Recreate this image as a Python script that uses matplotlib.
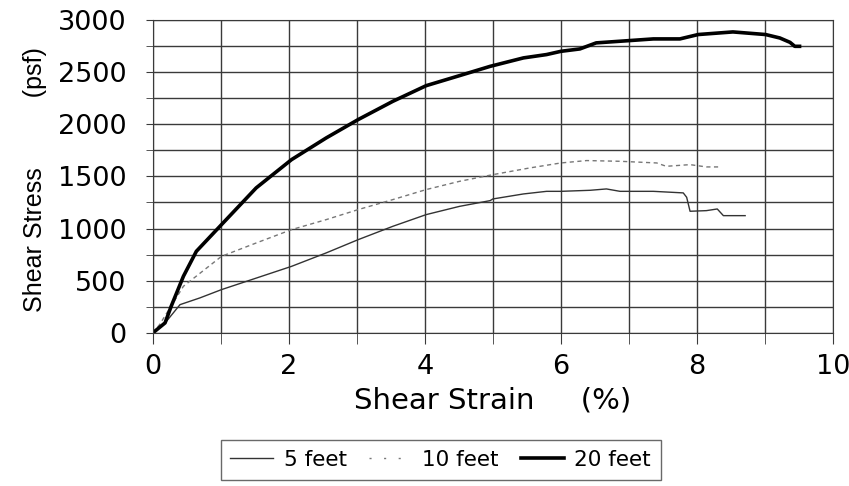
import matplotlib.pyplot as plt
from matplotlib.lines import Line2D
from matplotlib.ticker import MultipleLocator

plt.rcParams['font.family'] = ['DejaVu Sans']

# shear stress-strain curves at three depths
strain_5 = [0, 0.2, 0.40, 0.69, 1.01, 1.38, 2.04, 2.55, 3.02, 3.53, 4.02, 4.51, 4.96,
            5.0, 5.45, 5.79, 6.0, 6.43, 6.67, 6.87, 7.36, 7.80, 7.85, 7.90, 8.14,
            8.30, 8.39, 8.71]
stress_5 = [0, 111, 271, 335, 415, 495, 638, 767, 894, 1022, 1134, 1213, 1268,
            1284, 1332, 1357, 1357, 1367, 1380, 1357, 1357, 1342, 1300, 1166, 1172,
            1188, 1124, 1124]

strain_10 = [0, 0.1, 0.45, 1.01, 1.52, 2.04, 2.55, 3.02, 3.53, 4.02, 4.51, 5.0,
             5.54, 6.0, 6.38, 6.87, 7.41, 7.55, 7.90, 8.14, 8.36]
stress_10 = [0, 80, 447, 734, 862, 990, 1086, 1182, 1278, 1374, 1453, 1517,
             1581, 1629, 1652, 1645, 1629, 1597, 1613, 1591, 1591]

strain_20 = [0, 0.18, 0.27, 0.45, 0.64, 1.01, 1.52, 2.04, 2.55, 3.02, 3.53, 4.02,
             4.51, 4.96, 5.45, 5.79, 6.0, 6.28, 6.52, 7.01, 7.36, 7.75, 8.02, 8.53,
             9.01, 9.22, 9.37, 9.44, 9.51]
stress_20 = [0, 96, 255, 543, 782, 1038, 1390, 1661, 1869, 2045, 2220, 2370,
             2466, 2555, 2636, 2668, 2699, 2722, 2780, 2802, 2818, 2818, 2860, 2885,
             2860, 2827, 2785, 2747, 2747]

depth_labels = ['5 feet', '10 feet', '20 feet']

fig = plt.figure(figsize=(8.49, 4.86), dpi=100)
ax = fig.add_axes([0.180, 0.315, 0.801, 0.644])

ax.plot(strain_5, stress_5, color='#333333', linewidth=1.0)
ax.plot(strain_10, stress_10, color='#777777', linewidth=1.0,
        linestyle=(0, (3, 2.5)))
ax.plot(strain_20, stress_20, color='black', linewidth=2.6)

ax.set_xlim(0, 10)
ax.set_ylim(0, 3000)
ax.xaxis.set_major_locator(MultipleLocator(2))
ax.xaxis.set_minor_locator(MultipleLocator(1))
ax.yaxis.set_major_locator(MultipleLocator(500))
ax.yaxis.set_minor_locator(MultipleLocator(250))
ax.grid(True, which='both', color='#3a3a3a', linewidth=1.0)
ax.set_axisbelow(True)

for side in ['left', 'bottom', 'right', 'top']:
    ax.spines[side].set_color('#3a3a3a')
ax.tick_params(axis='both', which='both', direction='out', color='#3a3a3a',
               labelsize=19.5)
ax.tick_params(axis='x', which='both', length=8, pad=7)
ax.tick_params(axis='y', which='both', length=5, pad=14)

ax.set_xlabel('Shear Strain     (%)', fontsize=21, va='top')
ax.xaxis.set_label_coords(0.5, -0.17)
ax.set_ylabel('Shear Stress          (psf)', fontsize=18,
              family='Liberation Sans')
ax.yaxis.set_label_coords(-0.156, 0.49)

# legend handles; the dotted one is drawn sparser than the curve
handles = [Line2D([], [], color='#333333', linewidth=1.0),
           Line2D([], [], color='#777777', linewidth=1.0, linestyle=(0, (1.5, 9))),
           Line2D([], [], color='black', linewidth=2.6)]
leg = fig.legend(handles, depth_labels, ncol=3, loc='center',
                 bbox_to_anchor=(0.519, 0.0535), fontsize=15.5,
                 frameon=True, fancybox=False, edgecolor='#444444',
                 handlelength=2.0, columnspacing=1.0, handletextpad=0.5,
                 borderpad=0.45)
leg.get_frame().set_linewidth(1.0)

fig.savefig('out.png', dpi=100)
